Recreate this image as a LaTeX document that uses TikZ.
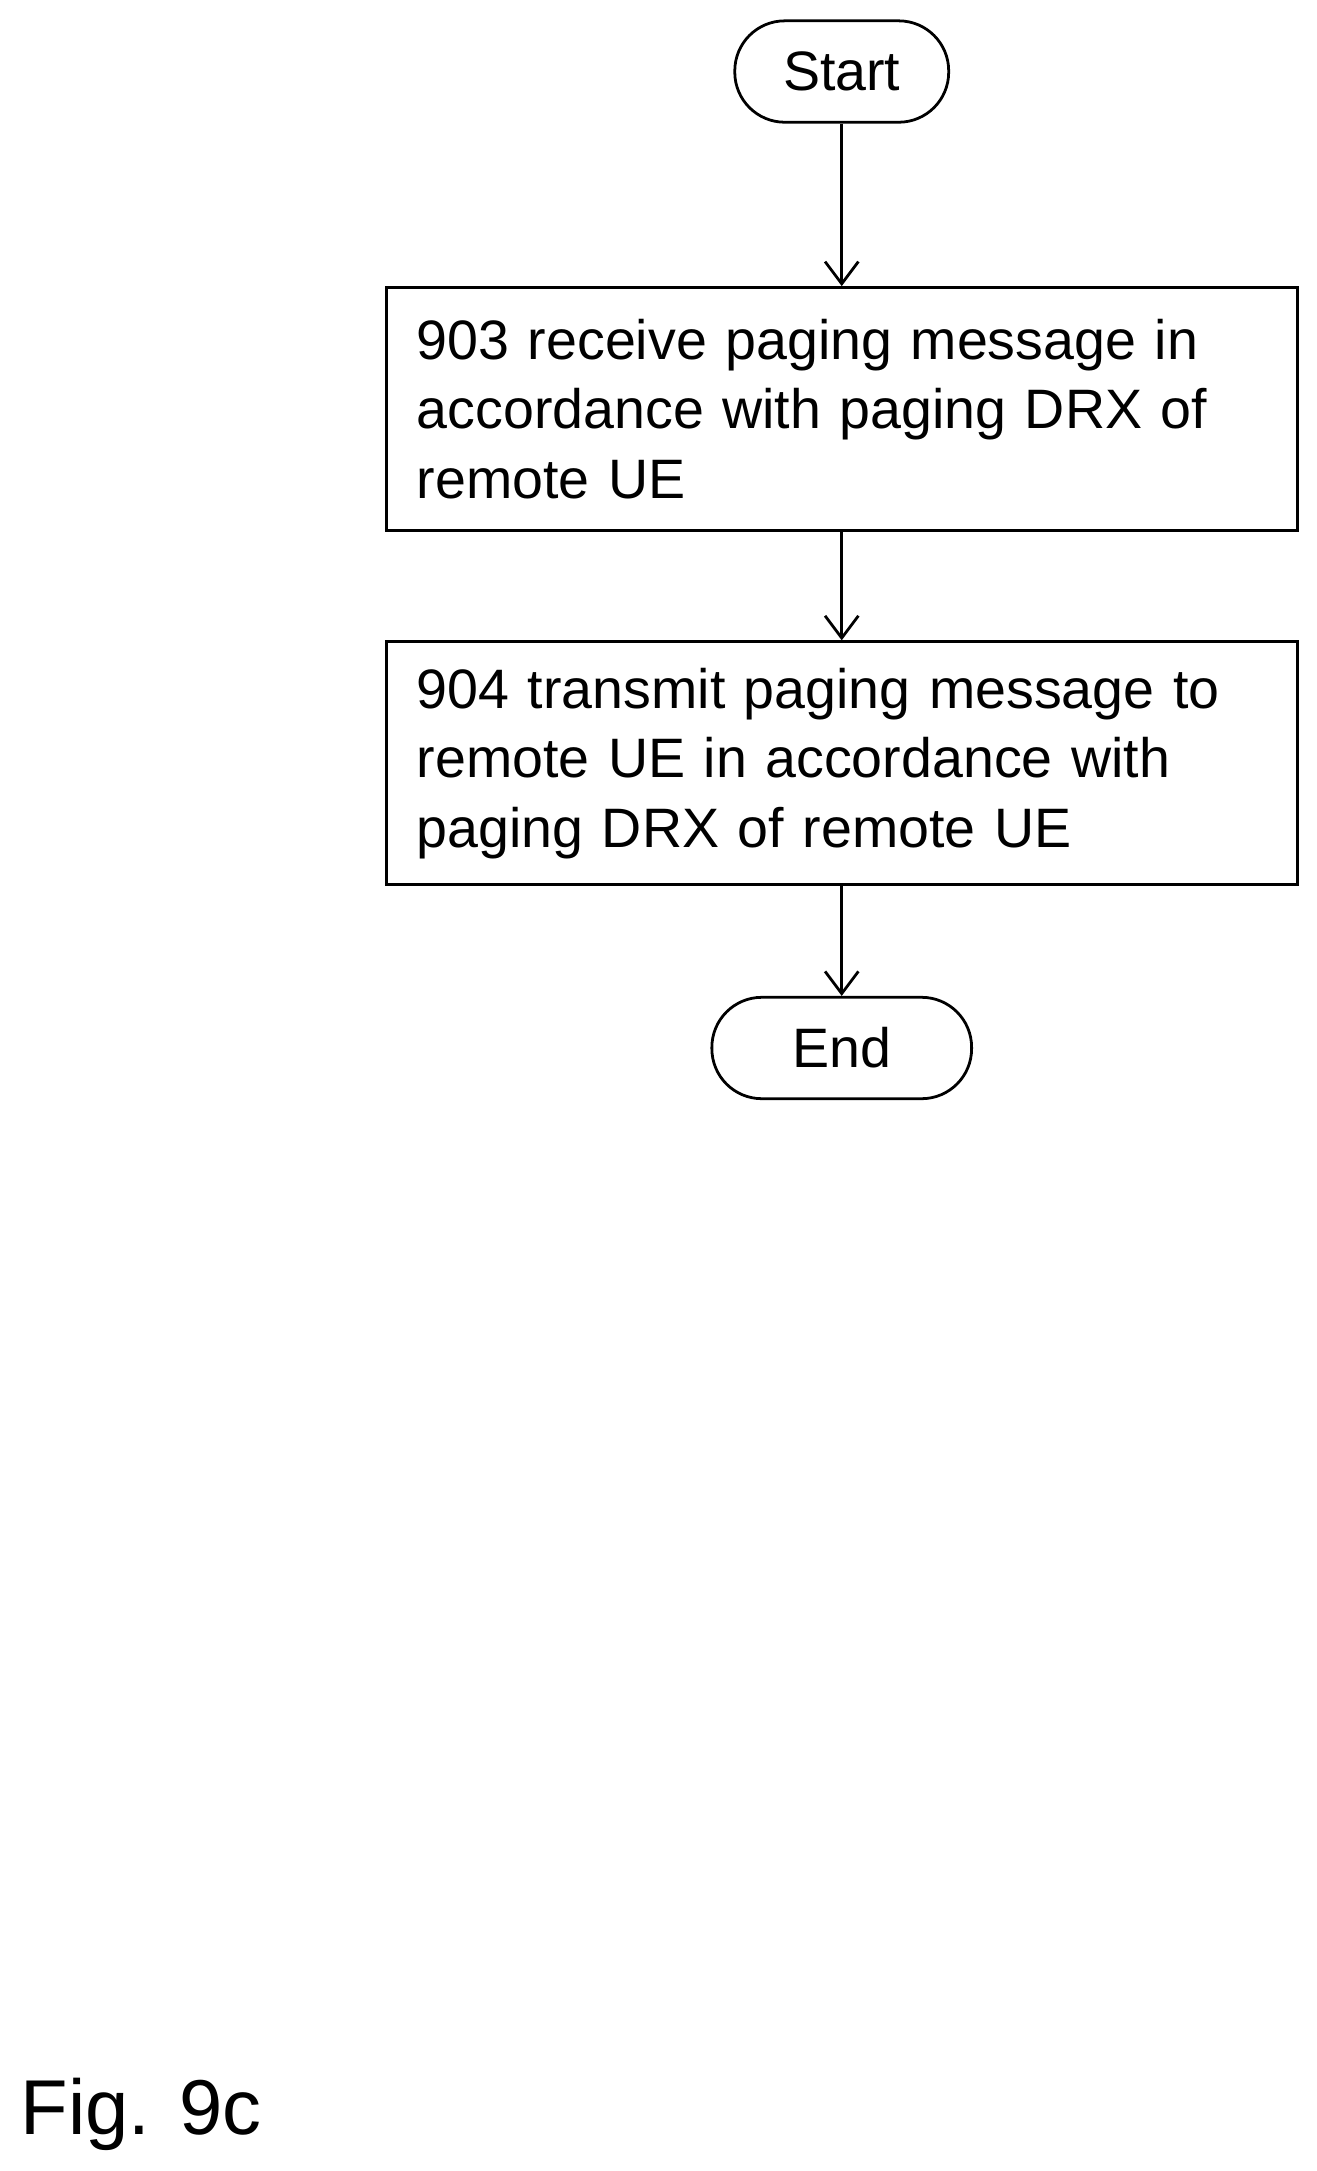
\documentclass[tikz,border=0pt]{standalone}
\usepackage{fontspec}
\setmainfont{Liberation Sans}
\usetikzlibrary{arrows.meta}
\begin{document}
\begin{tikzpicture}[x=0.5pt,y=-0.5pt,
  every node/.style={font=\fontsize{20}{25}\selectfont},
  term/.style={draw,line width=1pt,rounded corners=18pt,minimum height=36.5pt,inner sep=0pt},
  proc/.style={draw,line width=1pt,minimum width=328pt,minimum height=87.5pt,text width=306pt,align=left,inner sep=0pt},
  arr/.style={line width=1pt,-{Straight Barb[length=8pt,width=12pt]}}]
\useasboundingbox (0,0) rectangle (948,1563);
\node[term,minimum width=77pt] (start) at (606,51.5) {Start};
\node[proc] (b1) at (606,294.5) {903 receive paging message in accordance with paging DRX of remote UE};
\node[proc] (b2) at (606,549.5) {904 transmit paging message to remote UE in accordance with paging DRX of remote UE};
\node[term,minimum width=93.5pt] (end) at (606,754.5) {End};
\draw[arr] (start) -- (b1);
\draw[arr] (b1) -- (b2);
\draw[arr] (b2) -- (end);
\node[anchor=west,font=\fontsize{28}{32}\selectfont] (fig) at (8,1522) {Fig. 9c};
\end{tikzpicture}
\end{document}
